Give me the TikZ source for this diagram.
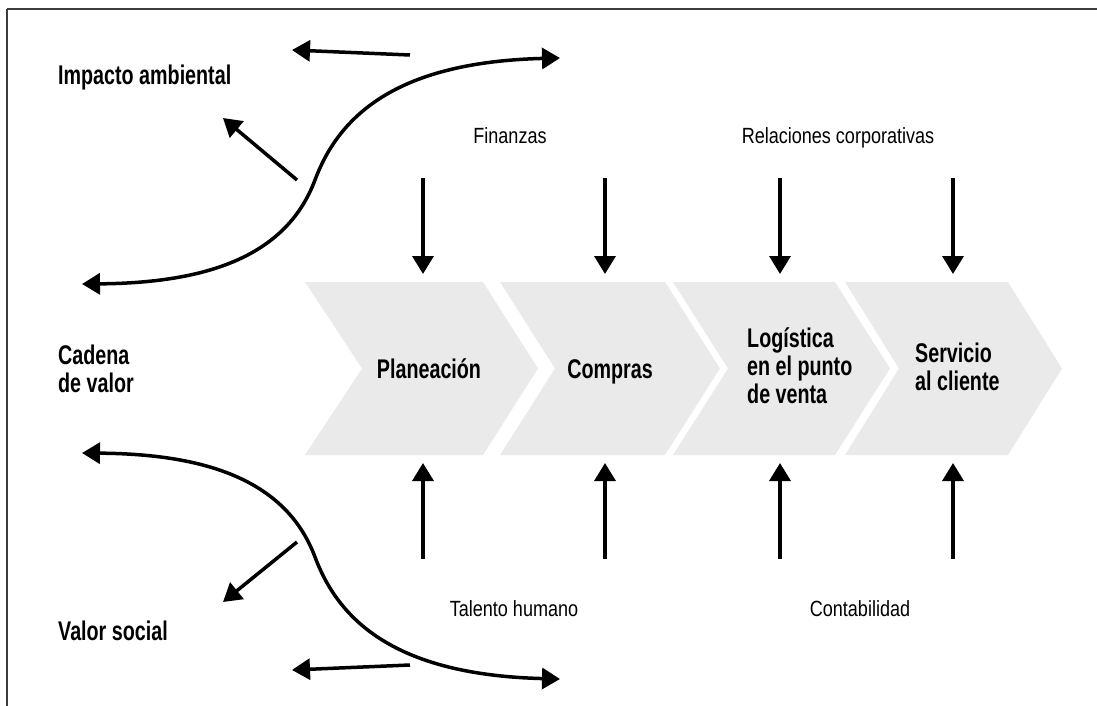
\documentclass[tikz,border=0pt]{standalone}
\usepackage{fontspec}
\setmainfont[UprightFeatures={FakeStretch=0.82},BoldFeatures={FakeStretch=0.73}]{Liberation Sans}
\usetikzlibrary{arrows.meta}
\definecolor{chevgray}{RGB}{234,234,234}
\definecolor{framegray}{RGB}{60,60,60}
\tikzset{
  arr/.style={line width=3.5pt,-{Triangle[width=21pt,length=18pt]}},
  biarr/.style={line width=3.5pt,{Triangle[width=21pt,length=18pt]}-{Triangle[width=21pt,length=18pt]}},
  chev/.style={fill=chevgray},
  reglab/.style={font=\fontsize{22}{26}\selectfont, inner sep=0pt, anchor=base},
  boldlab/.style={font=\fontsize{27}{28}\selectfont\bfseries, inner sep=0pt, align=left},
}
\begin{document}
\begin{tikzpicture}[x=1pt,y=-1pt]
\useasboundingbox (0,0) rectangle (1097,706);
% frame
\draw[line width=2.2pt, framegray] (7,9) -- (1097,9);
\draw[line width=1.5pt, framegray] (7,9) -- (7,706);

% chevrons
\fill[chev] (305,282) -- (483,282) -- (538,368.5) -- (483,455) -- (305,455) -- (362,368.5) -- cycle;
\fill[chev] (500,282) -- (665,282) -- (720,368.5) -- (665,455) -- (500,455) -- (555,368.5) -- cycle;
\fill[chev] (673,282) -- (835,282) -- (890,368.5) -- (835,455) -- (673,455) -- (728,368.5) -- cycle;
\fill[chev] (845,282) -- (1008,282) -- (1062,368.5) -- (1008,455) -- (845,455) -- (899,368.5) -- cycle;

% chevron labels (base anchor = baseline of last line)
\node[boldlab, anchor=base] (plan) at (429,378) {Planeación};
\node[boldlab, anchor=base] (comp) at (610,378) {Compras};
\node[boldlab, anchor=base west] (logi) at (747,403) {Logística\\en el punto\\de venta};
\node[boldlab, anchor=base west] (serv) at (915,390) {Servicio\\al cliente};

% left labels
\node[boldlab, anchor=base west] (imp) at (58,85) {Impacto ambiental};
\node[boldlab, anchor=base west] (cad) at (58,392) {Cadena\\de valor};
\node[boldlab, anchor=base west] (soc) at (58,640) {Valor social};

% support labels
\node[reglab] (fin) at (510,143) {Finanzas};
\node[reglab] (rel) at (838,143) {Relaciones corporativas};
\node[reglab] (tal) at (514,616) {Talento humano};
\node[reglab] (con) at (860,616) {Contabilidad};

% vertical arrows
\foreach \x [count=\i] in {423,605,780,953} {
  \coordinate (ds\i) at (\x,178);
  \coordinate (de\i) at (\x,274);
  \coordinate (us\i) at (\x,559);
  \coordinate (ue\i) at (\x,463);
  \draw[arr] (ds\i) -- (de\i);
  \draw[arr] (us\i) -- (ue\i);
}

% top S-curve
\coordinate (tl) at (82,284);
\coordinate (tm) at (315,180);
\coordinate (tr) at (560,58);
\draw[biarr] (tl) .. controls (200,283) and (285,260) .. (tm)
                  .. controls (340,113) and (400,62) .. (tr);
% bottom S-curve
\coordinate (bl) at (82,453);
\coordinate (bm) at (315,557);
\coordinate (br) at (560,679);
\draw[biarr] (bl) .. controls (200,454) and (285,477) .. (bm)
                  .. controls (340,624) and (400,675) .. (br);

% short arrows
\coordinate (h1s) at (410,55);  \coordinate (h1e) at (292,50);
\coordinate (g1s) at (297,180); \coordinate (g1e) at (223,118);
\coordinate (h2s) at (410,665); \coordinate (h2e) at (292,670);
\coordinate (g2s) at (297,542); \coordinate (g2e) at (223,602);
\draw[arr] (h1s) -- (h1e);
\draw[arr] (g1s) -- (g1e);
\draw[arr] (h2s) -- (h2e);
\draw[arr] (g2s) -- (g2e);
\end{tikzpicture}
\end{document}
